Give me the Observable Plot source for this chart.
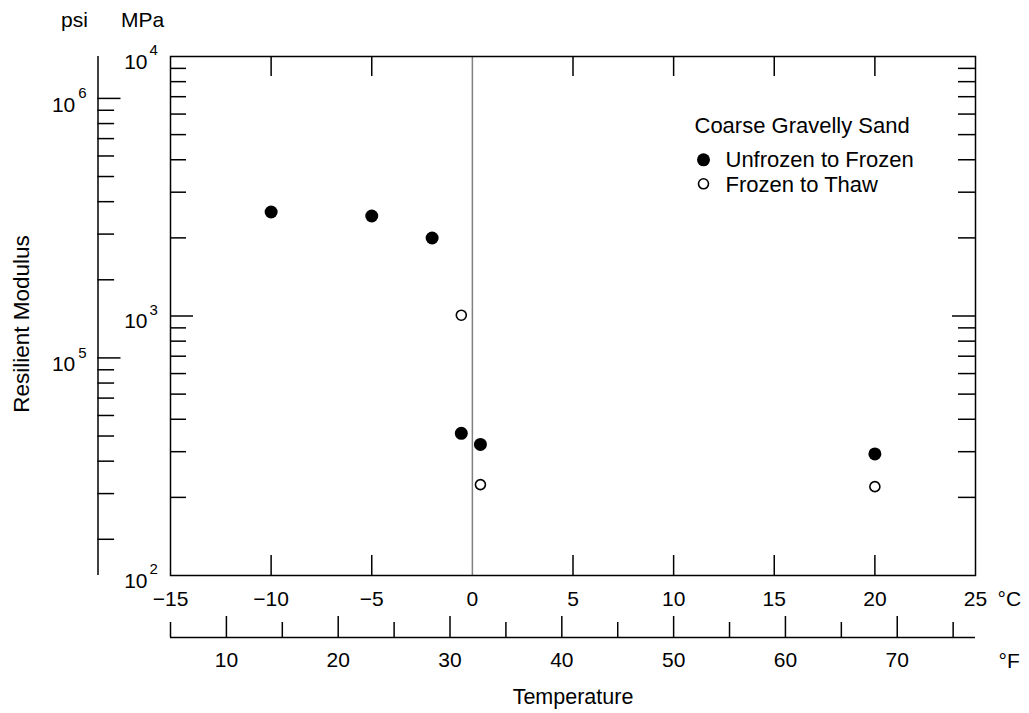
<!DOCTYPE html>
<html>
<head>
<meta charset="utf-8">
<script src="https://cdn.jsdelivr.net/npm/d3@7"></script>
<script src="https://cdn.jsdelivr.net/npm/@observablehq/plot@0.6"></script>
<style>
  html, body { margin: 0; padding: 0; background: #fff; }
  #chart svg { display: block; }
</style>
</head>
<body>
<div id="chart"></div>
<script>
// ---- Data ----
const celsiusTicks = [-15, -10, -5, 0, 5, 10, 15, 20, 25];
const celsiusInnerTicks = [-10, -5, 5, 10, 15, 20];
const fahrenheitMajor = [10, 20, 30, 40, 50, 60, 70];
const fahrenheitMinor = [5, 15, 25, 35, 45, 55, 65, 75];
const fahrenheitRange = [5, 77];
const mpaMajor = [100, 1000, 10000];
const mpaInnerMajor = [1000];
const mpaMinor = [200, 300, 400, 500, 600, 700, 800, 900, 2000, 3000, 4000, 5000, 6000, 7000, 8000, 9000];
const psiMajor = [1e5, 1e6];
const psiMinor = [2e4, 3e4, 4e4, 5e4, 6e4, 7e4, 8e4, 9e4, 2e5, 3e5, 4e5, 5e5, 6e5, 7e5, 8e5, 9e5];
const psiPerMPa = 145.038;

const seriesNames = ["Unfrozen to Frozen", "Frozen to Thaw"];
const legendTitle = "Coarse Gravelly Sand";

const unfrozenTemp = [-10, -5, -2, -0.55, 0.4, 20];
const unfrozenMPa  = [2516, 2428, 1998, 353, 320, 294];
const thawTemp = [-0.55, 0.4, 20];
const thawMPa  = [1007, 224, 220];

// ---- Derived tables ----
const unfrozen = unfrozenTemp.map((t, i) => ({t, m: unfrozenMPa[i]}));
const thaw = thawTemp.map((t, i) => ({t, m: thawMPa[i]}));
const fToC = f => (f - 32) * 5 / 9;
const fmtC = d => d < 0 ? "\u2212" + Math.abs(d) : String(d);
const exp10 = d => String(Math.round(Math.log10(d)));

const FONT = "Liberation Sans, Arial, Helvetica, sans-serif";
const TICK_FS = 21;
const SW = 1.5;
const PSI_DX = -72.5;
const T = {fill: "#000", lineAnchor: "middle"};

const chart = Plot.plot({
  width: 1029,
  height: 713,
  marginLeft: 170,
  marginRight: 54,
  marginTop: 56,
  marginBottom: 138,
  style: {fontFamily: FONT, background: "#fff", color: "#000"},
  x: {domain: [-15, 25], axis: null},
  y: {type: "log", domain: [100, 10000], axis: null},
  marks: [
    // zero line
    Plot.ruleX([0], {stroke: "#808080", strokeWidth: 1.5}),
    Plot.frame({stroke: "#000", strokeWidth: SW}),

    // °C ticks (bottom & top, inward)
    Plot.ruleX(celsiusInnerTicks, {x: d => d, y1: () => 100, y2: () => 100, insetTop: -20, stroke: "#000", strokeWidth: SW}),
    Plot.ruleX(celsiusInnerTicks, {x: d => d, y1: () => 10000, y2: () => 10000, insetBottom: -20, stroke: "#000", strokeWidth: SW}),
    Plot.text(celsiusTicks, {...T, x: d => d, y: () => 100, dy: 24, text: fmtC, fontSize: TICK_FS}),
    Plot.text(["\u00B0C"], {...T, frameAnchor: "bottom-right", dx: 22, dy: 24, textAnchor: "start", fontSize: TICK_FS}),

    // °F secondary axis
    Plot.ruleY([100], {x1: () => fToC(fahrenheitRange[0]), x2: () => fToC(fahrenheitRange[1]), dy: 62, stroke: "#000", strokeWidth: SW}),
    Plot.ruleX(fahrenheitMajor, {x: fToC, y1: () => 100, y2: () => 100, dy: 62, insetTop: -21, stroke: "#000", strokeWidth: SW}),
    Plot.ruleX(fahrenheitMinor, {x: fToC, y1: () => 100, y2: () => 100, dy: 62, insetTop: -15, stroke: "#000", strokeWidth: SW}),
    Plot.text(fahrenheitMajor, {...T, x: fToC, y: () => 100, dy: 85, text: d => String(d), fontSize: TICK_FS}),
    Plot.text(["\u00B0F"], {...T, frameAnchor: "bottom-right", dx: 23, dy: 86, textAnchor: "start", fontSize: TICK_FS}),
    Plot.text(["Temperature"], {...T, frameAnchor: "bottom", dy: 122, textAnchor: "middle", fontSize: 21.5}),

    // MPa ticks (left & right, inward)
    Plot.ruleY(mpaMinor, {y: d => d, x1: () => -15, x2: () => -15, insetRight: -16, stroke: "#000", strokeWidth: SW}),
    Plot.ruleY(mpaInnerMajor, {y: d => d, x1: () => -15, x2: () => -15, insetRight: -23, stroke: "#000", strokeWidth: SW}),
    Plot.ruleY(mpaMinor, {y: d => d, x1: () => 25, x2: () => 25, insetLeft: -17, stroke: "#000", strokeWidth: SW}),
    Plot.ruleY(mpaInnerMajor, {y: d => d, x1: () => 25, x2: () => 25, insetLeft: -23, stroke: "#000", strokeWidth: SW}),
    Plot.text(mpaMajor, {...T, x: () => -15, y: d => d, text: () => "10", textAnchor: "end", dx: -23, dy: 5.5, fontSize: TICK_FS}),
    Plot.text(mpaMajor, {...T, x: () => -15, y: d => d, text: exp10, textAnchor: "start", dx: -21, dy: -6, fontSize: 15}),

    // psi secondary axis
    Plot.ruleX([0], {x: () => -15, y1: () => 100, y2: () => 10000, dx: PSI_DX, stroke: "#000", strokeWidth: SW}),
    Plot.ruleY(psiMinor, {y: d => d / psiPerMPa, x1: () => -15, x2: () => -15, dx: PSI_DX, insetRight: -16.6, stroke: "#000", strokeWidth: SW}),
    Plot.ruleY(psiMajor, {y: d => d / psiPerMPa, x1: () => -15, x2: () => -15, dx: PSI_DX, insetRight: -23, stroke: "#000", strokeWidth: SW}),
    Plot.text(psiMajor, {...T, x: () => -15, y: d => d / psiPerMPa, text: () => "10", textAnchor: "end", dx: PSI_DX - 22.7, dy: 6.5, fontSize: TICK_FS}),
    Plot.text(psiMajor, {...T, x: () => -15, y: d => d / psiPerMPa, text: exp10, textAnchor: "start", dx: PSI_DX - 19.7, dy: -5, fontSize: 15}),

    // unit headers & y title
    Plot.text(["psi"], {...T, frameAnchor: "top-left", dx: -96, dy: -36, textAnchor: "middle", fontSize: TICK_FS}),
    Plot.text(["MPa"], {...T, frameAnchor: "top-left", dx: -28, dy: -36, textAnchor: "middle", fontSize: TICK_FS}),
    Plot.text(["Resilient Modulus"], {...T, frameAnchor: "left", rotate: -90, dx: -148.5, dy: 8, textAnchor: "middle", fontSize: 22.5}),

    // data
    Plot.dot(unfrozen, {x: "t", y: "m", r: 6.5, fill: "#000", stroke: "none"}),
    Plot.dot(thaw, {x: "t", y: "m", r: 5, fill: "#fff", stroke: "#000", strokeWidth: 1.6}),

    // legend
    Plot.text([legendTitle], {...T, frameAnchor: "top-left", dx: 524, dy: 69, textAnchor: "start", fontSize: 22}),
    Plot.dot([seriesNames[0]], {frameAnchor: "top-left", dx: 533, dy: 103.3, r: 6.5, fill: "#000", stroke: "none"}),
    Plot.text([seriesNames[0]], {...T, frameAnchor: "top-left", dx: 555, dy: 103, textAnchor: "start", fontSize: 22}),
    Plot.dot([seriesNames[1]], {frameAnchor: "top-left", dx: 533, dy: 127.3, r: 5, fill: "#fff", stroke: "#000", strokeWidth: 1.6}),
    Plot.text([seriesNames[1]], {...T, frameAnchor: "top-left", dx: 555, dy: 128, textAnchor: "start", fontSize: 22})
  ]
});
document.getElementById("chart").appendChild(chart);
</script>
</body>
</html>
